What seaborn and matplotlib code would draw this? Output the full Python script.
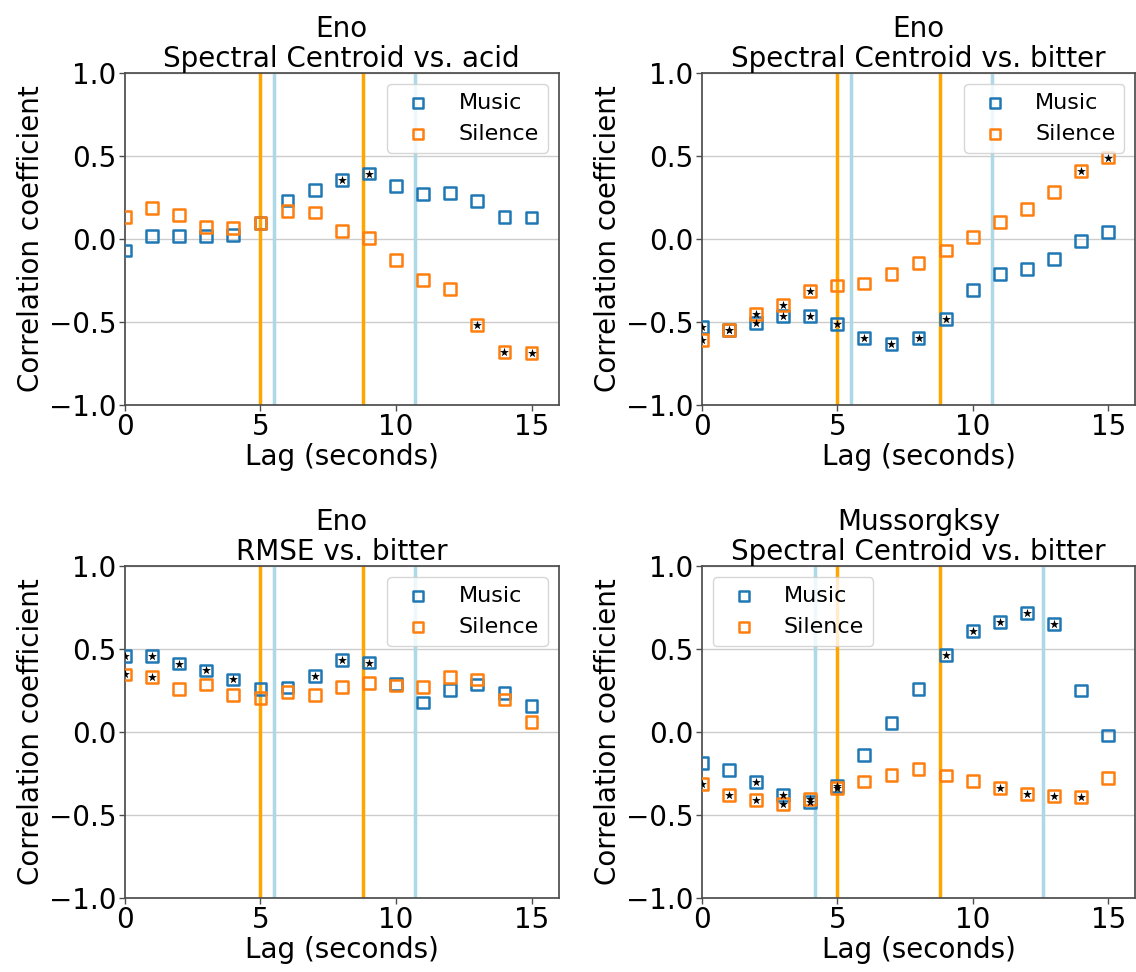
import matplotlib
matplotlib.use("Agg")
import matplotlib.pyplot as plt
import seaborn as sns
import pandas as pd

lags = list(range(16))

titles = [
    "Eno\nSpectral Centroid vs. acid",
    "Eno\nSpectral Centroid vs. bitter",
    "Eno\nRMSE vs. bitter",
    "Mussorgksy\nSpectral Centroid vs. bitter",
]

music_p1 = [-0.07, 0.02, 0.016, 0.016, 0.026, 0.096, 0.231, 0.297, 0.353, 0.394, 0.321, 0.271, 0.277, 0.227, 0.133, 0.129]
silence_p1 = [0.131, 0.185, 0.145, 0.074, 0.064, 0.096, 0.169, 0.159, 0.046, 0.006, -0.127, -0.245, -0.301, -0.52, -0.679, -0.689]
music_sig_p1 = [8, 9]
silence_sig_p1 = [13, 14, 15]

music_p2 = [-0.528, -0.548, -0.508, -0.464, -0.464, -0.51, -0.596, -0.633, -0.596, -0.48, -0.309, -0.213, -0.183, -0.122, -0.012, 0.04]
silence_p2 = [-0.608, -0.548, -0.452, -0.396, -0.315, -0.281, -0.269, -0.213, -0.143, -0.07, 0.012, 0.102, 0.179, 0.281, 0.408, 0.49]
music_sig_p2 = [0, 1, 2, 3, 4, 5, 6, 7, 8, 9]
silence_sig_p2 = [0, 1, 2, 3, 4, 14, 15]

music_p3 = [0.459, 0.459, 0.413, 0.371, 0.317, 0.261, 0.269, 0.337, 0.433, 0.419, 0.289, 0.178, 0.255, 0.287, 0.236, 0.158]
silence_p3 = [0.347, 0.333, 0.261, 0.287, 0.224, 0.204, 0.24, 0.224, 0.273, 0.297, 0.281, 0.273, 0.333, 0.317, 0.196, 0.06]
music_sig_p3 = [0, 1, 2, 3, 4, 7, 8, 9]
silence_sig_p3 = [0, 1]

music_p4 = [-0.188, -0.228, -0.299, -0.379, -0.419, -0.325, -0.138, 0.056, 0.261, 0.463, 0.607, 0.661, 0.719, 0.651, 0.251, -0.02]
silence_p4 = [-0.315, -0.379, -0.409, -0.433, -0.403, -0.339, -0.297, -0.257, -0.224, -0.261, -0.295, -0.335, -0.375, -0.385, -0.389, -0.277]
music_sig_p4 = [2, 3, 4, 5, 9, 10, 11, 12, 13]
silence_sig_p4 = [0, 1, 2, 3, 4, 5, 11, 12, 13, 14]

orange_lines = [[5.0, 8.8], [5.0, 8.8], [5.0, 8.8], [5.0, 8.8]]
blue_lines = [[5.5, 10.7], [5.5, 10.7], [5.5, 10.7], [4.18, 12.58]]
legend_locs = ["upper right", "upper right", "upper right", "upper left"]

y_ticks = [-1.0, -0.5, 0.0, 0.5, 1.0]
x_ticks = [0, 5, 10, 15]

panels = [
    (music_p1, silence_p1, music_sig_p1, silence_sig_p1),
    (music_p2, silence_p2, music_sig_p2, silence_sig_p2),
    (music_p3, silence_p3, music_sig_p3, silence_sig_p3),
    (music_p4, silence_p4, music_sig_p4, silence_sig_p4),
]

sns.set_theme(style="ticks")
plt.rcParams["font.family"] = ["DejaVu Sans"]
plt.rcParams["text.color"] = "black"
plt.rcParams["axes.labelcolor"] = "black"
plt.rcParams["axes.edgecolor"] = "#4d4d4d"
plt.rcParams["xtick.color"] = "#4d4d4d"
plt.rcParams["ytick.color"] = "#4d4d4d"
plt.rcParams["xtick.labelcolor"] = "black"
plt.rcParams["ytick.labelcolor"] = "black"
plt.rcParams["legend.labelcolor"] = "black"

fig, axes = plt.subplots(2, 2, figsize=(11.36, 9.72), dpi=100)
fig.subplots_adjust(left=0.110, right=0.9995, top=0.925, bottom=0.076,
                    wspace=0.33, hspace=0.485)

music_color = "#1f77b4"
silence_color = "#ff7f0e"

for i, ax in enumerate(axes.flat):
    music, silence, msig, ssig = panels[i]
    df = pd.DataFrame({"lag": lags, "music": music, "silence": silence})
    for xv in orange_lines[i]:
        ax.axvline(xv, color="orange", lw=2.5, zorder=1)
    for xv in blue_lines[i]:
        ax.axvline(xv, color="lightblue", lw=2.5, zorder=1)
    sns.scatterplot(data=df, x="lag", y="music", ax=ax, marker="s", s=72,
                    facecolor="none", edgecolor=music_color, color=music_color,
                    linewidth=1.8, label="Music", zorder=3)
    sns.scatterplot(data=df, x="lag", y="silence", ax=ax, marker="s", s=72,
                    facecolor="none", edgecolor=silence_color, color=silence_color,
                    linewidth=1.8, label="Silence", zorder=3)
    ms = df[df["lag"].isin(msig)]
    ss = df[df["lag"].isin(ssig)]
    sns.scatterplot(data=ms, x="lag", y="music", ax=ax, marker="*", s=45,
                    color="black", edgecolor="black", linewidth=0, zorder=4)
    sns.scatterplot(data=ss, x="lag", y="silence", ax=ax, marker="*", s=45,
                    color="black", edgecolor="black", linewidth=0, zorder=4)
    ax.set_xlim(0, 16)
    ax.set_ylim(-1.0, 1.0)
    ax.set_xticks(x_ticks)
    ax.set_yticks(y_ticks)
    ax.yaxis.grid(True, color="#cccccc", lw=1.0)
    ax.set_axisbelow(True)
    ax.tick_params(labelsize=20, length=4, width=1, pad=2)
    ax.set_xlabel("Lag (seconds)", fontsize=20, labelpad=1)
    ax.set_ylabel("Correlation coefficient", fontsize=20, labelpad=3)
    ax.set_title(titles[i], fontsize=20, linespacing=1.1, pad=3)
    for sp in ax.spines.values():
        sp.set_visible(True)
        sp.set_color("#4d4d4d")
    ax.legend(loc=legend_locs[i], fontsize=16, frameon=True, framealpha=0.8,
              markerscale=0.85)

fig.savefig("out.png", dpi=100)
